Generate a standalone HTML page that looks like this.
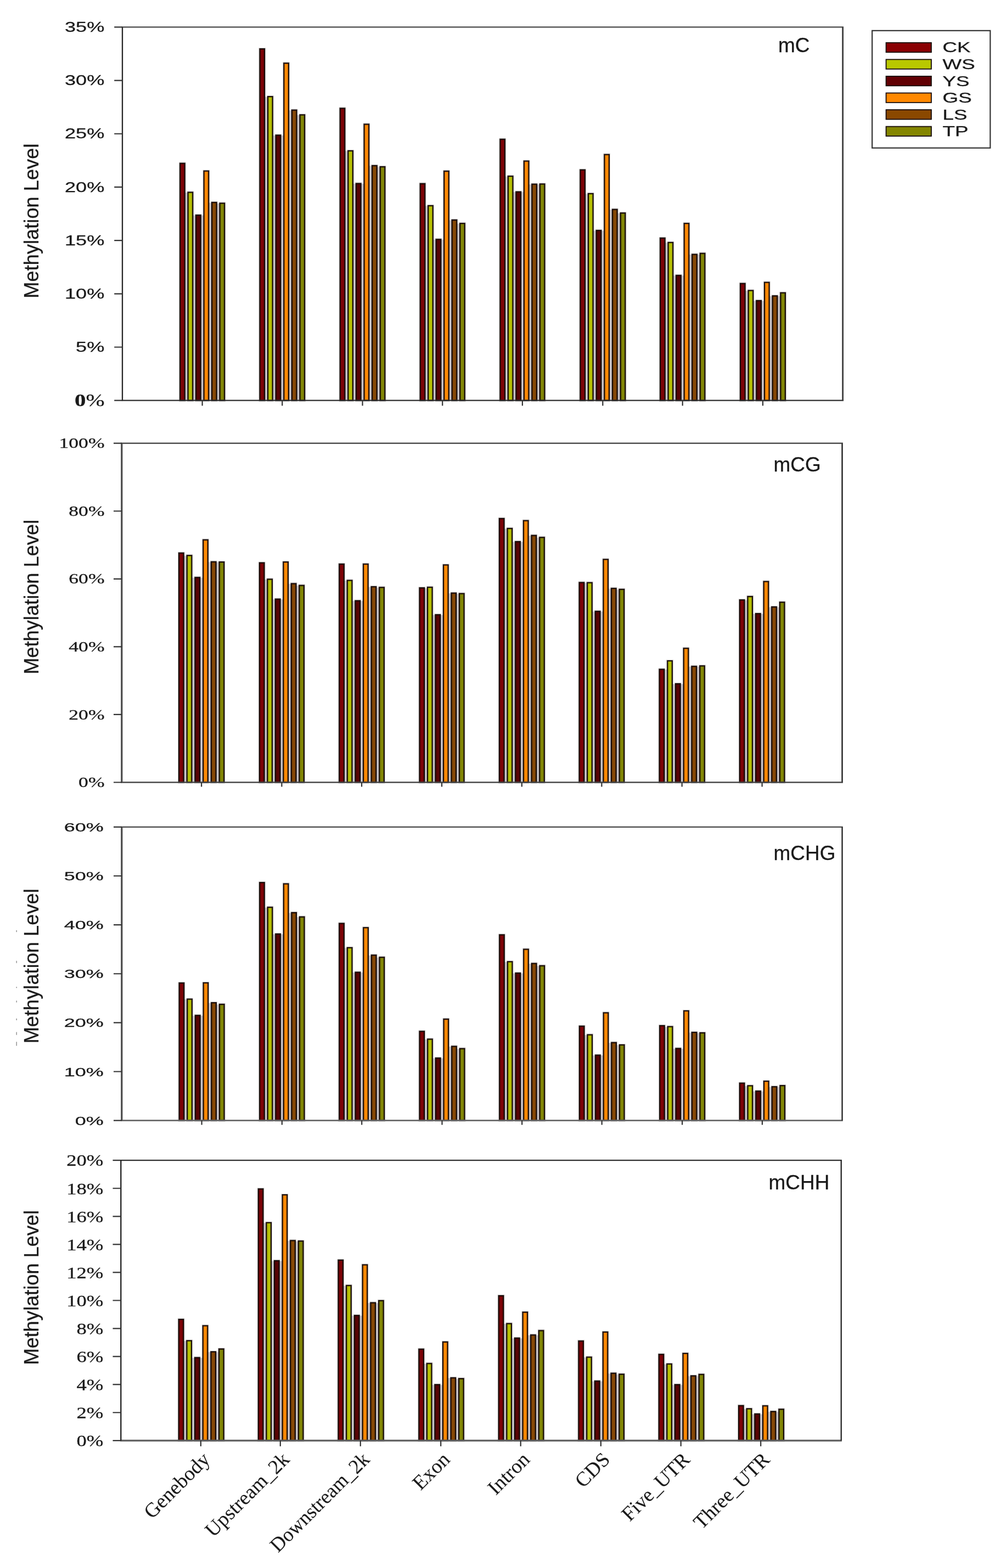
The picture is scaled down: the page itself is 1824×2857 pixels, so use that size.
<!DOCTYPE html>
<html lang="en"><head><meta charset="utf-8"><title>Methylation Level</title>
<style>html,body{margin:0;padding:0;background:#fff}svg{display:block}.sans{font-family:"Liberation Sans",Arial,Helvetica,sans-serif}.serif{font-family:"Liberation Serif","Times New Roman",Times,serif}text{fill:#1a1a1a;stroke:#1a1a1a;stroke-width:0.3px;stroke-linejoin:round}.xl text{stroke-width:0.1px}</style></head><body>
<svg width="1824" height="2857" viewBox="0 0 1824 2857">
<rect width="1824" height="2857" fill="#fff"/>
<g>
<rect x="337.19" y="350.95" width="4.89" height="378.75" fill="#d2ced3"/>
<rect x="351.68" y="392.48" width="4.89" height="337.22" fill="#d2ced3"/>
<rect x="366.17" y="392.48" width="4.89" height="337.22" fill="#d2ced3"/>
<rect x="380.67" y="369.34" width="4.89" height="360.36" fill="#d2ced3"/>
<rect x="395.16" y="370.82" width="4.89" height="358.88" fill="#d2ced3"/>
<rect x="328.04" y="297.59" width="8.7" height="432.11" fill="#7c0307" stroke="#160a06" stroke-width="1.9"/>
<rect x="342.53" y="350.4" width="8.7" height="379.3" fill="#b6c004" stroke="#160a06" stroke-width="1.9"/>
<rect x="357.02" y="391.93" width="8.7" height="337.77" fill="#580405" stroke="#160a06" stroke-width="1.9"/>
<rect x="371.52" y="311.53" width="8.7" height="418.17" fill="#fc8904" stroke="#160a06" stroke-width="1.9"/>
<rect x="386.01" y="368.79" width="8.7" height="360.91" fill="#864806" stroke="#160a06" stroke-width="1.9"/>
<rect x="400.51" y="370.27" width="8.7" height="359.43" fill="#828606" stroke="#160a06" stroke-width="1.9"/>
<rect x="482.56" y="176.5" width="5.01" height="553.2" fill="#d2ced3"/>
<rect x="497.17" y="246.81" width="5.01" height="482.89" fill="#d2ced3"/>
<rect x="511.79" y="246.81" width="5.01" height="482.89" fill="#d2ced3"/>
<rect x="526.4" y="201.12" width="5.01" height="528.58" fill="#d2ced3"/>
<rect x="541.01" y="209.73" width="5.01" height="519.97" fill="#d2ced3"/>
<rect x="473.41" y="89.02" width="8.7" height="640.68" fill="#7c0307" stroke="#160a06" stroke-width="1.9"/>
<rect x="488.02" y="175.95" width="8.7" height="553.75" fill="#b6c004" stroke="#160a06" stroke-width="1.9"/>
<rect x="502.64" y="246.26" width="8.7" height="483.44" fill="#580405" stroke="#160a06" stroke-width="1.9"/>
<rect x="517.25" y="115.13" width="8.7" height="614.57" fill="#fc8904" stroke="#160a06" stroke-width="1.9"/>
<rect x="531.86" y="200.57" width="8.7" height="529.13" fill="#864806" stroke="#160a06" stroke-width="1.9"/>
<rect x="546.47" y="209.18" width="8.7" height="520.52" fill="#828606" stroke="#160a06" stroke-width="1.9"/>
<rect x="628.82" y="275.29" width="5.01" height="454.41" fill="#d2ced3"/>
<rect x="643.44" y="334.93" width="5.01" height="394.77" fill="#d2ced3"/>
<rect x="658.05" y="334.93" width="5.01" height="394.77" fill="#d2ced3"/>
<rect x="672.66" y="302.29" width="5.01" height="427.41" fill="#d2ced3"/>
<rect x="687.27" y="304.37" width="5.01" height="425.33" fill="#d2ced3"/>
<rect x="619.67" y="197.31" width="8.7" height="532.39" fill="#7c0307" stroke="#160a06" stroke-width="1.9"/>
<rect x="634.29" y="274.74" width="8.7" height="454.96" fill="#b6c004" stroke="#160a06" stroke-width="1.9"/>
<rect x="648.9" y="334.38" width="8.7" height="395.32" fill="#580405" stroke="#160a06" stroke-width="1.9"/>
<rect x="663.51" y="226.38" width="8.7" height="503.32" fill="#fc8904" stroke="#160a06" stroke-width="1.9"/>
<rect x="678.12" y="301.74" width="8.7" height="427.96" fill="#864806" stroke="#160a06" stroke-width="1.9"/>
<rect x="692.74" y="303.82" width="8.7" height="425.88" fill="#828606" stroke="#160a06" stroke-width="1.9"/>
<rect x="774.81" y="375.28" width="4.89" height="354.42" fill="#d2ced3"/>
<rect x="789.31" y="436.69" width="4.89" height="293.01" fill="#d2ced3"/>
<rect x="803.8" y="436.69" width="4.89" height="293.01" fill="#d2ced3"/>
<rect x="818.29" y="401.38" width="4.89" height="328.32" fill="#d2ced3"/>
<rect x="832.79" y="407.61" width="4.89" height="322.09" fill="#d2ced3"/>
<rect x="765.66" y="334.67" width="8.7" height="395.03" fill="#7c0307" stroke="#160a06" stroke-width="1.9"/>
<rect x="780.16" y="374.73" width="8.7" height="354.97" fill="#b6c004" stroke="#160a06" stroke-width="1.9"/>
<rect x="794.65" y="436.14" width="8.7" height="293.56" fill="#580405" stroke="#160a06" stroke-width="1.9"/>
<rect x="809.14" y="311.83" width="8.7" height="417.87" fill="#fc8904" stroke="#160a06" stroke-width="1.9"/>
<rect x="823.64" y="400.83" width="8.7" height="328.87" fill="#864806" stroke="#160a06" stroke-width="1.9"/>
<rect x="838.13" y="407.06" width="8.7" height="322.64" fill="#828606" stroke="#160a06" stroke-width="1.9"/>
<rect x="920.48" y="321.58" width="4.89" height="408.12" fill="#d2ced3"/>
<rect x="934.98" y="350.06" width="4.89" height="379.64" fill="#d2ced3"/>
<rect x="949.47" y="350.06" width="4.89" height="379.64" fill="#d2ced3"/>
<rect x="963.97" y="336.11" width="4.89" height="393.59" fill="#d2ced3"/>
<rect x="978.46" y="336.11" width="4.89" height="393.59" fill="#d2ced3"/>
<rect x="911.33" y="253.68" width="8.7" height="476.02" fill="#7c0307" stroke="#160a06" stroke-width="1.9"/>
<rect x="925.83" y="321.03" width="8.7" height="408.67" fill="#b6c004" stroke="#160a06" stroke-width="1.9"/>
<rect x="940.32" y="349.51" width="8.7" height="380.19" fill="#580405" stroke="#160a06" stroke-width="1.9"/>
<rect x="954.82" y="293.43" width="8.7" height="436.27" fill="#fc8904" stroke="#160a06" stroke-width="1.9"/>
<rect x="969.31" y="335.56" width="8.7" height="394.14" fill="#864806" stroke="#160a06" stroke-width="1.9"/>
<rect x="983.8" y="335.27" width="8.7" height="394.43" fill="#828606" stroke="#160a06" stroke-width="1.9"/>
<rect x="1066.45" y="353.32" width="5.07" height="376.38" fill="#d2ced3"/>
<rect x="1081.12" y="420.37" width="5.07" height="309.33" fill="#d2ced3"/>
<rect x="1095.79" y="420.37" width="5.07" height="309.33" fill="#d2ced3"/>
<rect x="1110.47" y="382.1" width="5.07" height="347.6" fill="#d2ced3"/>
<rect x="1125.14" y="388.63" width="5.07" height="341.07" fill="#d2ced3"/>
<rect x="1057.3" y="309.46" width="8.7" height="420.24" fill="#7c0307" stroke="#160a06" stroke-width="1.9"/>
<rect x="1071.97" y="352.77" width="8.7" height="376.93" fill="#b6c004" stroke="#160a06" stroke-width="1.9"/>
<rect x="1086.64" y="419.82" width="8.7" height="309.88" fill="#580405" stroke="#160a06" stroke-width="1.9"/>
<rect x="1101.32" y="281.57" width="8.7" height="448.13" fill="#fc8904" stroke="#160a06" stroke-width="1.9"/>
<rect x="1115.99" y="381.55" width="8.7" height="348.15" fill="#864806" stroke="#160a06" stroke-width="1.9"/>
<rect x="1130.66" y="388.08" width="8.7" height="341.62" fill="#828606" stroke="#160a06" stroke-width="1.9"/>
<rect x="1212.14" y="442.33" width="4.95" height="287.37" fill="#d2ced3"/>
<rect x="1226.7" y="502.25" width="4.95" height="227.45" fill="#d2ced3"/>
<rect x="1241.25" y="502.25" width="4.95" height="227.45" fill="#d2ced3"/>
<rect x="1255.8" y="463.98" width="4.95" height="265.72" fill="#d2ced3"/>
<rect x="1270.36" y="463.98" width="4.95" height="265.72" fill="#d2ced3"/>
<rect x="1202.99" y="433.76" width="8.7" height="295.94" fill="#7c0307" stroke="#160a06" stroke-width="1.9"/>
<rect x="1217.55" y="441.78" width="8.7" height="287.92" fill="#b6c004" stroke="#160a06" stroke-width="1.9"/>
<rect x="1232.1" y="501.7" width="8.7" height="228" fill="#580405" stroke="#160a06" stroke-width="1.9"/>
<rect x="1246.65" y="407.06" width="8.7" height="322.64" fill="#fc8904" stroke="#160a06" stroke-width="1.9"/>
<rect x="1261.21" y="463.43" width="8.7" height="266.27" fill="#864806" stroke="#160a06" stroke-width="1.9"/>
<rect x="1275.76" y="461.65" width="8.7" height="268.05" fill="#828606" stroke="#160a06" stroke-width="1.9"/>
<rect x="1358.11" y="529.85" width="5.07" height="199.85" fill="#d2ced3"/>
<rect x="1372.78" y="548.24" width="5.07" height="181.46" fill="#d2ced3"/>
<rect x="1387.45" y="548.24" width="5.07" height="181.46" fill="#d2ced3"/>
<rect x="1402.13" y="539.64" width="5.07" height="190.06" fill="#d2ced3"/>
<rect x="1416.8" y="539.64" width="5.07" height="190.06" fill="#d2ced3"/>
<rect x="1348.96" y="516.54" width="8.7" height="213.16" fill="#7c0307" stroke="#160a06" stroke-width="1.9"/>
<rect x="1363.63" y="529.3" width="8.7" height="200.4" fill="#b6c004" stroke="#160a06" stroke-width="1.9"/>
<rect x="1378.3" y="547.69" width="8.7" height="182.01" fill="#580405" stroke="#160a06" stroke-width="1.9"/>
<rect x="1392.98" y="514.46" width="8.7" height="215.24" fill="#fc8904" stroke="#160a06" stroke-width="1.9"/>
<rect x="1407.65" y="539.09" width="8.7" height="190.61" fill="#864806" stroke="#160a06" stroke-width="1.9"/>
<rect x="1422.32" y="533.45" width="8.7" height="196.25" fill="#828606" stroke="#160a06" stroke-width="1.9"/>
<path d="M328.04 297.59h8.7v432.11h-8.7zM342.53 350.4h8.7v379.3h-8.7zM357.02 391.93h8.7v337.77h-8.7zM371.52 311.53h8.7v418.17h-8.7zM386.01 368.79h8.7v360.91h-8.7zM400.51 370.27h8.7v359.43h-8.7zM473.41 89.02h8.7v640.68h-8.7zM488.02 175.95h8.7v553.75h-8.7zM502.64 246.26h8.7v483.44h-8.7zM517.25 115.13h8.7v614.57h-8.7zM531.86 200.57h8.7v529.13h-8.7zM546.47 209.18h8.7v520.52h-8.7zM619.67 197.31h8.7v532.39h-8.7zM634.29 274.74h8.7v454.96h-8.7zM648.9 334.38h8.7v395.32h-8.7zM663.51 226.38h8.7v503.32h-8.7zM678.12 301.74h8.7v427.96h-8.7zM692.74 303.82h8.7v425.88h-8.7zM765.66 334.67h8.7v395.03h-8.7zM780.16 374.73h8.7v354.97h-8.7zM794.65 436.14h8.7v293.56h-8.7zM809.14 311.83h8.7v417.87h-8.7zM823.64 400.83h8.7v328.87h-8.7zM838.13 407.06h8.7v322.64h-8.7zM911.33 253.68h8.7v476.02h-8.7zM925.83 321.03h8.7v408.67h-8.7zM940.32 349.51h8.7v380.19h-8.7zM954.82 293.43h8.7v436.27h-8.7zM969.31 335.56h8.7v394.14h-8.7zM983.8 335.27h8.7v394.43h-8.7zM1057.3 309.46h8.7v420.24h-8.7zM1071.97 352.77h8.7v376.93h-8.7zM1086.64 419.82h8.7v309.88h-8.7zM1101.32 281.57h8.7v448.13h-8.7zM1115.99 381.55h8.7v348.15h-8.7zM1130.66 388.08h8.7v341.62h-8.7zM1202.99 433.76h8.7v295.94h-8.7zM1217.55 441.78h8.7v287.92h-8.7zM1232.1 501.7h8.7v228h-8.7zM1246.65 407.06h8.7v322.64h-8.7zM1261.21 463.43h8.7v266.27h-8.7zM1275.76 461.65h8.7v268.05h-8.7zM1348.96 516.54h8.7v213.16h-8.7zM1363.63 529.3h8.7v200.4h-8.7zM1378.3 547.69h8.7v182.01h-8.7zM1392.98 514.46h8.7v215.24h-8.7zM1407.65 539.09h8.7v190.61h-8.7zM1422.32 533.45h8.7v196.25h-8.7z" fill="none" stroke="#160a06" stroke-opacity="0.32" stroke-width="3.5999999999999996"/>
<path d="M221.85 49.4H1537.1" stroke="#4a4a4a" stroke-width="2.1" fill="none"/>
<path d="M221.85 729.7H1537.1" stroke="#2e2e2e" stroke-width="2.2" fill="none"/>
<path d="M223 49.4V729.7" stroke="#262626" stroke-width="2.3" fill="none"/>
<path d="M1535.7 49.4V729.7" stroke="#3c3c3c" stroke-width="2.8" fill="none"/>
<path d="M208.2 729.7H223M208.2 632.51H223M208.2 535.33H223M208.2 438.14H223M208.2 340.96H223M208.2 243.77H223M208.2 146.59H223M208.2 49.4H223M368.62 729.7V739.2M514.29 729.7V739.2M660.56 729.7V739.2M806.25 729.7V739.2M951.92 729.7V739.2M1098.33 729.7V739.2M1243.73 729.7V739.2M1389.99 729.7V739.2" stroke="#333333" stroke-width="2.2" fill="none"/>
</g>
<g class="sans" font-size="26" text-anchor="end">
<text class="serif" font-size="32" transform="translate(190.6,740.3) scale(1.28,1)"><tspan font-weight="bold">0</tspan>%</text>
<text transform="translate(190.3,641.22) scale(1.39,1)">5%</text>
<text transform="translate(190.3,544.04) scale(1.39,1)">10%</text>
<text transform="translate(190.3,446.85) scale(1.39,1)">15%</text>
<text transform="translate(190.3,349.67) scale(1.39,1)">20%</text>
<text transform="translate(190.3,252.48) scale(1.39,1)">25%</text>
<text transform="translate(190.3,155.3) scale(1.39,1)">30%</text>
<text transform="translate(190.3,58.11) scale(1.39,1)">35%</text>
</g>
<text class="sans" font-size="37" text-anchor="middle" transform="translate(69.6,402.6) rotate(-90) scale(0.98,1)">Methylation Level</text>
<text class="sans" font-size="37" transform="translate(1418,94.5) scale(1,1)">mC</text>
<g>
<rect x="335.11" y="1012.63" width="5.13" height="412.87" fill="#d2ced3"/>
<rect x="349.84" y="1052.68" width="5.13" height="372.82" fill="#d2ced3"/>
<rect x="364.57" y="1052.68" width="5.13" height="372.82" fill="#d2ced3"/>
<rect x="379.3" y="1024.2" width="5.13" height="401.3" fill="#d2ced3"/>
<rect x="394.03" y="1024.5" width="5.13" height="401" fill="#d2ced3"/>
<rect x="325.96" y="1007.63" width="8.7" height="417.87" fill="#7c0307" stroke="#160a06" stroke-width="1.9"/>
<rect x="340.69" y="1012.08" width="8.7" height="413.42" fill="#b6c004" stroke="#160a06" stroke-width="1.9"/>
<rect x="355.42" y="1052.13" width="8.7" height="373.37" fill="#580405" stroke="#160a06" stroke-width="1.9"/>
<rect x="370.15" y="983.6" width="8.7" height="441.9" fill="#fc8904" stroke="#160a06" stroke-width="1.9"/>
<rect x="384.88" y="1023.65" width="8.7" height="401.85" fill="#864806" stroke="#160a06" stroke-width="1.9"/>
<rect x="399.62" y="1023.95" width="8.7" height="401.55" fill="#828606" stroke="#160a06" stroke-width="1.9"/>
<rect x="481.97" y="1055.94" width="4.89" height="369.56" fill="#d2ced3"/>
<rect x="496.46" y="1092.14" width="4.89" height="333.36" fill="#d2ced3"/>
<rect x="510.95" y="1092.14" width="4.89" height="333.36" fill="#d2ced3"/>
<rect x="525.45" y="1063.95" width="4.89" height="361.55" fill="#d2ced3"/>
<rect x="539.94" y="1067.22" width="4.89" height="358.28" fill="#d2ced3"/>
<rect x="472.82" y="1025.43" width="8.7" height="400.07" fill="#7c0307" stroke="#160a06" stroke-width="1.9"/>
<rect x="487.31" y="1055.39" width="8.7" height="370.11" fill="#b6c004" stroke="#160a06" stroke-width="1.9"/>
<rect x="501.8" y="1091.59" width="8.7" height="333.91" fill="#580405" stroke="#160a06" stroke-width="1.9"/>
<rect x="516.3" y="1023.95" width="8.7" height="401.55" fill="#fc8904" stroke="#160a06" stroke-width="1.9"/>
<rect x="530.79" y="1063.4" width="8.7" height="362.1" fill="#864806" stroke="#160a06" stroke-width="1.9"/>
<rect x="545.29" y="1066.67" width="8.7" height="358.83" fill="#828606" stroke="#160a06" stroke-width="1.9"/>
<rect x="627.34" y="1058.02" width="5.01" height="367.48" fill="#d2ced3"/>
<rect x="641.95" y="1095.11" width="5.01" height="330.39" fill="#d2ced3"/>
<rect x="656.57" y="1095.11" width="5.01" height="330.39" fill="#d2ced3"/>
<rect x="671.18" y="1069.59" width="5.01" height="355.91" fill="#d2ced3"/>
<rect x="685.79" y="1070.78" width="5.01" height="354.72" fill="#d2ced3"/>
<rect x="618.19" y="1027.8" width="8.7" height="397.7" fill="#7c0307" stroke="#160a06" stroke-width="1.9"/>
<rect x="632.8" y="1057.47" width="8.7" height="368.03" fill="#b6c004" stroke="#160a06" stroke-width="1.9"/>
<rect x="647.42" y="1094.56" width="8.7" height="330.94" fill="#580405" stroke="#160a06" stroke-width="1.9"/>
<rect x="662.03" y="1027.8" width="8.7" height="397.7" fill="#fc8904" stroke="#160a06" stroke-width="1.9"/>
<rect x="676.64" y="1069.04" width="8.7" height="356.46" fill="#864806" stroke="#160a06" stroke-width="1.9"/>
<rect x="691.25" y="1070.23" width="8.7" height="355.27" fill="#828606" stroke="#160a06" stroke-width="1.9"/>
<rect x="773.63" y="1071.67" width="4.89" height="353.83" fill="#d2ced3"/>
<rect x="788.12" y="1120.62" width="4.89" height="304.88" fill="#d2ced3"/>
<rect x="802.61" y="1120.62" width="4.89" height="304.88" fill="#d2ced3"/>
<rect x="817.11" y="1081.16" width="4.89" height="344.34" fill="#d2ced3"/>
<rect x="831.6" y="1082.05" width="4.89" height="343.45" fill="#d2ced3"/>
<rect x="764.48" y="1071.12" width="8.7" height="354.38" fill="#7c0307" stroke="#160a06" stroke-width="1.9"/>
<rect x="778.97" y="1069.93" width="8.7" height="355.57" fill="#b6c004" stroke="#160a06" stroke-width="1.9"/>
<rect x="793.46" y="1120.07" width="8.7" height="305.43" fill="#580405" stroke="#160a06" stroke-width="1.9"/>
<rect x="807.96" y="1029.29" width="8.7" height="396.21" fill="#fc8904" stroke="#160a06" stroke-width="1.9"/>
<rect x="822.45" y="1080.61" width="8.7" height="344.89" fill="#864806" stroke="#160a06" stroke-width="1.9"/>
<rect x="836.95" y="1081.5" width="8.7" height="344" fill="#828606" stroke="#160a06" stroke-width="1.9"/>
<rect x="919" y="963.38" width="5.07" height="462.12" fill="#d2ced3"/>
<rect x="933.67" y="987.41" width="5.07" height="438.09" fill="#d2ced3"/>
<rect x="948.34" y="987.41" width="5.07" height="438.09" fill="#d2ced3"/>
<rect x="963.02" y="976.14" width="5.07" height="449.36" fill="#d2ced3"/>
<rect x="977.69" y="979.7" width="5.07" height="445.8" fill="#d2ced3"/>
<rect x="909.85" y="944.73" width="8.7" height="480.77" fill="#7c0307" stroke="#160a06" stroke-width="1.9"/>
<rect x="924.52" y="962.83" width="8.7" height="462.67" fill="#b6c004" stroke="#160a06" stroke-width="1.9"/>
<rect x="939.19" y="986.86" width="8.7" height="438.64" fill="#580405" stroke="#160a06" stroke-width="1.9"/>
<rect x="953.87" y="948.59" width="8.7" height="476.91" fill="#fc8904" stroke="#160a06" stroke-width="1.9"/>
<rect x="968.54" y="975.59" width="8.7" height="449.91" fill="#864806" stroke="#160a06" stroke-width="1.9"/>
<rect x="983.21" y="979.15" width="8.7" height="446.35" fill="#828606" stroke="#160a06" stroke-width="1.9"/>
<rect x="1064.67" y="1062.17" width="5.01" height="363.33" fill="#d2ced3"/>
<rect x="1079.28" y="1114.39" width="5.01" height="311.11" fill="#d2ced3"/>
<rect x="1093.9" y="1114.39" width="5.01" height="311.11" fill="#d2ced3"/>
<rect x="1108.51" y="1072.56" width="5.01" height="352.94" fill="#d2ced3"/>
<rect x="1123.12" y="1074.34" width="5.01" height="351.16" fill="#d2ced3"/>
<rect x="1055.52" y="1061.33" width="8.7" height="364.17" fill="#7c0307" stroke="#160a06" stroke-width="1.9"/>
<rect x="1070.13" y="1061.62" width="8.7" height="363.88" fill="#b6c004" stroke="#160a06" stroke-width="1.9"/>
<rect x="1084.75" y="1113.84" width="8.7" height="311.66" fill="#580405" stroke="#160a06" stroke-width="1.9"/>
<rect x="1099.36" y="1019.2" width="8.7" height="406.3" fill="#fc8904" stroke="#160a06" stroke-width="1.9"/>
<rect x="1113.97" y="1072.01" width="8.7" height="353.49" fill="#864806" stroke="#160a06" stroke-width="1.9"/>
<rect x="1128.58" y="1073.79" width="8.7" height="351.71" fill="#828606" stroke="#160a06" stroke-width="1.9"/>
<rect x="1210.66" y="1220.01" width="5.13" height="205.49" fill="#d2ced3"/>
<rect x="1225.39" y="1246.41" width="5.13" height="179.09" fill="#d2ced3"/>
<rect x="1240.12" y="1246.41" width="5.13" height="179.09" fill="#d2ced3"/>
<rect x="1254.85" y="1214.67" width="5.13" height="210.83" fill="#d2ced3"/>
<rect x="1269.58" y="1214.67" width="5.13" height="210.83" fill="#d2ced3"/>
<rect x="1201.51" y="1219.46" width="8.7" height="206.04" fill="#7c0307" stroke="#160a06" stroke-width="1.9"/>
<rect x="1216.24" y="1204.03" width="8.7" height="221.47" fill="#b6c004" stroke="#160a06" stroke-width="1.9"/>
<rect x="1230.97" y="1245.86" width="8.7" height="179.64" fill="#580405" stroke="#160a06" stroke-width="1.9"/>
<rect x="1245.7" y="1181.19" width="8.7" height="244.31" fill="#fc8904" stroke="#160a06" stroke-width="1.9"/>
<rect x="1260.43" y="1214.12" width="8.7" height="211.38" fill="#864806" stroke="#160a06" stroke-width="1.9"/>
<rect x="1275.17" y="1213.23" width="8.7" height="212.27" fill="#828606" stroke="#160a06" stroke-width="1.9"/>
<rect x="1356.92" y="1093.62" width="5.01" height="331.88" fill="#d2ced3"/>
<rect x="1371.54" y="1118.54" width="5.01" height="306.96" fill="#d2ced3"/>
<rect x="1386.15" y="1118.54" width="5.01" height="306.96" fill="#d2ced3"/>
<rect x="1400.76" y="1106.38" width="5.01" height="319.12" fill="#d2ced3"/>
<rect x="1415.37" y="1106.38" width="5.01" height="319.12" fill="#d2ced3"/>
<rect x="1347.77" y="1093.07" width="8.7" height="332.43" fill="#7c0307" stroke="#160a06" stroke-width="1.9"/>
<rect x="1362.39" y="1086.84" width="8.7" height="338.66" fill="#b6c004" stroke="#160a06" stroke-width="1.9"/>
<rect x="1377" y="1117.99" width="8.7" height="307.51" fill="#580405" stroke="#160a06" stroke-width="1.9"/>
<rect x="1391.61" y="1059.55" width="8.7" height="365.95" fill="#fc8904" stroke="#160a06" stroke-width="1.9"/>
<rect x="1406.22" y="1105.83" width="8.7" height="319.67" fill="#864806" stroke="#160a06" stroke-width="1.9"/>
<rect x="1420.84" y="1097.23" width="8.7" height="328.27" fill="#828606" stroke="#160a06" stroke-width="1.9"/>
<path d="M325.96 1007.63h8.7v417.87h-8.7zM340.69 1012.08h8.7v413.42h-8.7zM355.42 1052.13h8.7v373.37h-8.7zM370.15 983.6h8.7v441.9h-8.7zM384.88 1023.65h8.7v401.85h-8.7zM399.62 1023.95h8.7v401.55h-8.7zM472.82 1025.43h8.7v400.07h-8.7zM487.31 1055.39h8.7v370.11h-8.7zM501.8 1091.59h8.7v333.91h-8.7zM516.3 1023.95h8.7v401.55h-8.7zM530.79 1063.4h8.7v362.1h-8.7zM545.29 1066.67h8.7v358.83h-8.7zM618.19 1027.8h8.7v397.7h-8.7zM632.8 1057.47h8.7v368.03h-8.7zM647.42 1094.56h8.7v330.94h-8.7zM662.03 1027.8h8.7v397.7h-8.7zM676.64 1069.04h8.7v356.46h-8.7zM691.25 1070.23h8.7v355.27h-8.7zM764.48 1071.12h8.7v354.38h-8.7zM778.97 1069.93h8.7v355.57h-8.7zM793.46 1120.07h8.7v305.43h-8.7zM807.96 1029.29h8.7v396.21h-8.7zM822.45 1080.61h8.7v344.89h-8.7zM836.95 1081.5h8.7v344h-8.7zM909.85 944.73h8.7v480.77h-8.7zM924.52 962.83h8.7v462.67h-8.7zM939.19 986.86h8.7v438.64h-8.7zM953.87 948.59h8.7v476.91h-8.7zM968.54 975.59h8.7v449.91h-8.7zM983.21 979.15h8.7v446.35h-8.7zM1055.52 1061.33h8.7v364.17h-8.7zM1070.13 1061.62h8.7v363.88h-8.7zM1084.75 1113.84h8.7v311.66h-8.7zM1099.36 1019.2h8.7v406.3h-8.7zM1113.97 1072.01h8.7v353.49h-8.7zM1128.58 1073.79h8.7v351.71h-8.7zM1201.51 1219.46h8.7v206.04h-8.7zM1216.24 1204.03h8.7v221.47h-8.7zM1230.97 1245.86h8.7v179.64h-8.7zM1245.7 1181.19h8.7v244.31h-8.7zM1260.43 1214.12h8.7v211.38h-8.7zM1275.17 1213.23h8.7v212.27h-8.7zM1347.77 1093.07h8.7v332.43h-8.7zM1362.39 1086.84h8.7v338.66h-8.7zM1377 1117.99h8.7v307.51h-8.7zM1391.61 1059.55h8.7v365.95h-8.7zM1406.22 1105.83h8.7v319.67h-8.7zM1420.84 1097.23h8.7v328.27h-8.7z" fill="none" stroke="#160a06" stroke-opacity="0.32" stroke-width="3.5999999999999996"/>
<path d="M220.2 807.7H1536" stroke="#3c3c3c" stroke-width="2.2" fill="none"/>
<path d="M220.2 1425.5H1536" stroke="#484848" stroke-width="2.3" fill="none"/>
<path d="M221.8 807.7V1425.5" stroke="#4a4a4a" stroke-width="3.2" fill="none"/>
<path d="M1534.6 807.7V1425.5" stroke="#3c3c3c" stroke-width="2.8" fill="none"/>
<path d="M207 1425.5H221.8M207 1301.94H221.8M207 1178.38H221.8M207 1054.82H221.8M207 931.26H221.8M207 807.7H221.8M367.14 1425.5V1433.5M513.4 1425.5V1433.5M659.07 1425.5V1433.5M805.06 1425.5V1433.5M950.88 1425.5V1433.5M1096.4 1425.5V1433.5M1242.69 1425.5V1433.5M1388.65 1425.5V1433.5" stroke="#333333" stroke-width="2.2" fill="none"/>
</g>
<g class="serif" font-size="25.4" text-anchor="end">
<text transform="translate(190.5,1434.09) scale(1.4,1)">0%</text>
<text transform="translate(190.5,1310.53) scale(1.4,1)">20%</text>
<text transform="translate(190.5,1186.97) scale(1.4,1)">40%</text>
<text transform="translate(190.5,1063.41) scale(1.4,1)">60%</text>
<text transform="translate(190.5,939.85) scale(1.4,1)">80%</text>
<text transform="translate(190.5,816.29) scale(1.4,1)">100%</text>
</g>
<text class="sans" font-size="37" text-anchor="middle" transform="translate(69.6,1087.8) rotate(-90) scale(0.98,1)">Methylation Level</text>
<text class="sans" font-size="37" transform="translate(1409.5,858.6) scale(1,1)">mCG</text>
<g>
<rect x="335.7" y="1820.98" width="5.07" height="220.62" fill="#d2ced3"/>
<rect x="350.37" y="1850.65" width="5.07" height="190.95" fill="#d2ced3"/>
<rect x="365.05" y="1850.65" width="5.07" height="190.95" fill="#d2ced3"/>
<rect x="379.72" y="1827.51" width="5.07" height="214.09" fill="#d2ced3"/>
<rect x="394.39" y="1830.47" width="5.07" height="211.13" fill="#d2ced3"/>
<rect x="326.55" y="1791.06" width="8.7" height="250.54" fill="#7c0307" stroke="#160a06" stroke-width="1.9"/>
<rect x="341.22" y="1820.43" width="8.7" height="221.17" fill="#b6c004" stroke="#160a06" stroke-width="1.9"/>
<rect x="355.9" y="1850.1" width="8.7" height="191.5" fill="#580405" stroke="#160a06" stroke-width="1.9"/>
<rect x="370.57" y="1790.76" width="8.7" height="250.84" fill="#fc8904" stroke="#160a06" stroke-width="1.9"/>
<rect x="385.24" y="1826.96" width="8.7" height="214.64" fill="#864806" stroke="#160a06" stroke-width="1.9"/>
<rect x="399.91" y="1829.92" width="8.7" height="211.68" fill="#828606" stroke="#160a06" stroke-width="1.9"/>
<rect x="482.26" y="1653.65" width="4.95" height="387.95" fill="#d2ced3"/>
<rect x="496.82" y="1702.31" width="4.95" height="339.29" fill="#d2ced3"/>
<rect x="511.37" y="1702.31" width="4.95" height="339.29" fill="#d2ced3"/>
<rect x="525.92" y="1663.44" width="4.95" height="378.16" fill="#d2ced3"/>
<rect x="540.48" y="1671.15" width="4.95" height="370.45" fill="#d2ced3"/>
<rect x="473.11" y="1608" width="8.7" height="433.6" fill="#7c0307" stroke="#160a06" stroke-width="1.9"/>
<rect x="487.67" y="1653.1" width="8.7" height="388.5" fill="#b6c004" stroke="#160a06" stroke-width="1.9"/>
<rect x="502.22" y="1701.76" width="8.7" height="339.84" fill="#580405" stroke="#160a06" stroke-width="1.9"/>
<rect x="516.77" y="1610.38" width="8.7" height="431.22" fill="#fc8904" stroke="#160a06" stroke-width="1.9"/>
<rect x="531.33" y="1662.89" width="8.7" height="378.71" fill="#864806" stroke="#160a06" stroke-width="1.9"/>
<rect x="545.88" y="1670.6" width="8.7" height="371" fill="#828606" stroke="#160a06" stroke-width="1.9"/>
<rect x="627.34" y="1727.23" width="5.07" height="314.37" fill="#d2ced3"/>
<rect x="642.01" y="1772.03" width="5.07" height="269.57" fill="#d2ced3"/>
<rect x="656.68" y="1772.03" width="5.07" height="269.57" fill="#d2ced3"/>
<rect x="671.36" y="1740.87" width="5.07" height="300.73" fill="#d2ced3"/>
<rect x="686.03" y="1744.73" width="5.07" height="296.87" fill="#d2ced3"/>
<rect x="618.19" y="1682.47" width="8.7" height="359.13" fill="#7c0307" stroke="#160a06" stroke-width="1.9"/>
<rect x="632.86" y="1726.68" width="8.7" height="314.92" fill="#b6c004" stroke="#160a06" stroke-width="1.9"/>
<rect x="647.53" y="1771.48" width="8.7" height="270.12" fill="#580405" stroke="#160a06" stroke-width="1.9"/>
<rect x="662.21" y="1690.19" width="8.7" height="351.41" fill="#fc8904" stroke="#160a06" stroke-width="1.9"/>
<rect x="676.88" y="1740.32" width="8.7" height="301.28" fill="#864806" stroke="#160a06" stroke-width="1.9"/>
<rect x="691.55" y="1744.18" width="8.7" height="297.42" fill="#828606" stroke="#160a06" stroke-width="1.9"/>
<rect x="773.63" y="1893.96" width="5.07" height="147.64" fill="#d2ced3"/>
<rect x="788.3" y="1928.38" width="5.07" height="113.22" fill="#d2ced3"/>
<rect x="802.97" y="1928.38" width="5.07" height="113.22" fill="#d2ced3"/>
<rect x="817.64" y="1907.02" width="5.07" height="134.58" fill="#d2ced3"/>
<rect x="832.31" y="1911.17" width="5.07" height="130.43" fill="#d2ced3"/>
<rect x="764.48" y="1879.17" width="8.7" height="162.43" fill="#7c0307" stroke="#160a06" stroke-width="1.9"/>
<rect x="779.15" y="1893.41" width="8.7" height="148.19" fill="#b6c004" stroke="#160a06" stroke-width="1.9"/>
<rect x="793.82" y="1927.83" width="8.7" height="113.77" fill="#580405" stroke="#160a06" stroke-width="1.9"/>
<rect x="808.49" y="1856.92" width="8.7" height="184.68" fill="#fc8904" stroke="#160a06" stroke-width="1.9"/>
<rect x="823.16" y="1906.47" width="8.7" height="135.13" fill="#864806" stroke="#160a06" stroke-width="1.9"/>
<rect x="837.84" y="1910.62" width="8.7" height="130.98" fill="#828606" stroke="#160a06" stroke-width="1.9"/>
<rect x="919.3" y="1752.74" width="5.07" height="288.86" fill="#d2ced3"/>
<rect x="933.97" y="1773.51" width="5.07" height="268.09" fill="#d2ced3"/>
<rect x="948.64" y="1773.51" width="5.07" height="268.09" fill="#d2ced3"/>
<rect x="963.31" y="1756.01" width="5.07" height="285.59" fill="#d2ced3"/>
<rect x="977.98" y="1760.16" width="5.07" height="281.44" fill="#d2ced3"/>
<rect x="910.15" y="1703.24" width="8.7" height="338.36" fill="#7c0307" stroke="#160a06" stroke-width="1.9"/>
<rect x="924.82" y="1752.19" width="8.7" height="289.41" fill="#b6c004" stroke="#160a06" stroke-width="1.9"/>
<rect x="939.49" y="1772.96" width="8.7" height="268.64" fill="#580405" stroke="#160a06" stroke-width="1.9"/>
<rect x="954.16" y="1729.64" width="8.7" height="311.96" fill="#fc8904" stroke="#160a06" stroke-width="1.9"/>
<rect x="968.83" y="1755.46" width="8.7" height="286.14" fill="#864806" stroke="#160a06" stroke-width="1.9"/>
<rect x="983.51" y="1759.61" width="8.7" height="281.99" fill="#828606" stroke="#160a06" stroke-width="1.9"/>
<rect x="1064.97" y="1885.95" width="5.01" height="155.65" fill="#d2ced3"/>
<rect x="1079.58" y="1923.04" width="5.01" height="118.56" fill="#d2ced3"/>
<rect x="1094.19" y="1923.04" width="5.01" height="118.56" fill="#d2ced3"/>
<rect x="1108.81" y="1900.19" width="5.01" height="141.41" fill="#d2ced3"/>
<rect x="1123.42" y="1904.35" width="5.01" height="137.25" fill="#d2ced3"/>
<rect x="1055.82" y="1869.68" width="8.7" height="171.92" fill="#7c0307" stroke="#160a06" stroke-width="1.9"/>
<rect x="1070.43" y="1885.4" width="8.7" height="156.2" fill="#b6c004" stroke="#160a06" stroke-width="1.9"/>
<rect x="1085.04" y="1922.49" width="8.7" height="119.11" fill="#580405" stroke="#160a06" stroke-width="1.9"/>
<rect x="1099.66" y="1845.35" width="8.7" height="196.25" fill="#fc8904" stroke="#160a06" stroke-width="1.9"/>
<rect x="1114.27" y="1899.64" width="8.7" height="141.96" fill="#864806" stroke="#160a06" stroke-width="1.9"/>
<rect x="1128.88" y="1903.8" width="8.7" height="137.8" fill="#828606" stroke="#160a06" stroke-width="1.9"/>
<rect x="1211.25" y="1871.12" width="5.07" height="170.48" fill="#d2ced3"/>
<rect x="1225.92" y="1910.87" width="5.07" height="130.73" fill="#d2ced3"/>
<rect x="1240.6" y="1910.87" width="5.07" height="130.73" fill="#d2ced3"/>
<rect x="1255.27" y="1881.5" width="5.07" height="160.1" fill="#d2ced3"/>
<rect x="1269.94" y="1882.39" width="5.07" height="159.21" fill="#d2ced3"/>
<rect x="1202.1" y="1868.79" width="8.7" height="172.81" fill="#7c0307" stroke="#160a06" stroke-width="1.9"/>
<rect x="1216.77" y="1870.57" width="8.7" height="171.03" fill="#b6c004" stroke="#160a06" stroke-width="1.9"/>
<rect x="1231.45" y="1910.32" width="8.7" height="131.28" fill="#580405" stroke="#160a06" stroke-width="1.9"/>
<rect x="1246.12" y="1841.79" width="8.7" height="199.81" fill="#fc8904" stroke="#160a06" stroke-width="1.9"/>
<rect x="1260.79" y="1880.95" width="8.7" height="160.65" fill="#864806" stroke="#160a06" stroke-width="1.9"/>
<rect x="1275.46" y="1881.84" width="8.7" height="159.76" fill="#828606" stroke="#160a06" stroke-width="1.9"/>
<rect x="1356.92" y="1978.81" width="5.13" height="62.79" fill="#d2ced3"/>
<rect x="1371.65" y="1988.6" width="5.13" height="53" fill="#d2ced3"/>
<rect x="1386.39" y="1988.6" width="5.13" height="53" fill="#d2ced3"/>
<rect x="1401.12" y="1980.59" width="5.13" height="61.01" fill="#d2ced3"/>
<rect x="1415.85" y="1980.59" width="5.13" height="61.01" fill="#d2ced3"/>
<rect x="1347.77" y="1973.52" width="8.7" height="68.08" fill="#7c0307" stroke="#160a06" stroke-width="1.9"/>
<rect x="1362.5" y="1978.26" width="8.7" height="63.34" fill="#b6c004" stroke="#160a06" stroke-width="1.9"/>
<rect x="1377.24" y="1988.05" width="8.7" height="53.55" fill="#580405" stroke="#160a06" stroke-width="1.9"/>
<rect x="1391.97" y="1969.96" width="8.7" height="71.64" fill="#fc8904" stroke="#160a06" stroke-width="1.9"/>
<rect x="1406.7" y="1980.04" width="8.7" height="61.56" fill="#864806" stroke="#160a06" stroke-width="1.9"/>
<rect x="1421.43" y="1977.97" width="8.7" height="63.63" fill="#828606" stroke="#160a06" stroke-width="1.9"/>
<path d="M326.55 1791.06h8.7v250.54h-8.7zM341.22 1820.43h8.7v221.17h-8.7zM355.9 1850.1h8.7v191.5h-8.7zM370.57 1790.76h8.7v250.84h-8.7zM385.24 1826.96h8.7v214.64h-8.7zM399.91 1829.92h8.7v211.68h-8.7zM473.11 1608h8.7v433.6h-8.7zM487.67 1653.1h8.7v388.5h-8.7zM502.22 1701.76h8.7v339.84h-8.7zM516.77 1610.38h8.7v431.22h-8.7zM531.33 1662.89h8.7v378.71h-8.7zM545.88 1670.6h8.7v371h-8.7zM618.19 1682.47h8.7v359.13h-8.7zM632.86 1726.68h8.7v314.92h-8.7zM647.53 1771.48h8.7v270.12h-8.7zM662.21 1690.19h8.7v351.41h-8.7zM676.88 1740.32h8.7v301.28h-8.7zM691.55 1744.18h8.7v297.42h-8.7zM764.48 1879.17h8.7v162.43h-8.7zM779.15 1893.41h8.7v148.19h-8.7zM793.82 1927.83h8.7v113.77h-8.7zM808.49 1856.92h8.7v184.68h-8.7zM823.16 1906.47h8.7v135.13h-8.7zM837.84 1910.62h8.7v130.98h-8.7zM910.15 1703.24h8.7v338.36h-8.7zM924.82 1752.19h8.7v289.41h-8.7zM939.49 1772.96h8.7v268.64h-8.7zM954.16 1729.64h8.7v311.96h-8.7zM968.83 1755.46h8.7v286.14h-8.7zM983.51 1759.61h8.7v281.99h-8.7zM1055.82 1869.68h8.7v171.92h-8.7zM1070.43 1885.4h8.7v156.2h-8.7zM1085.04 1922.49h8.7v119.11h-8.7zM1099.66 1845.35h8.7v196.25h-8.7zM1114.27 1899.64h8.7v141.96h-8.7zM1128.88 1903.8h8.7v137.8h-8.7zM1202.1 1868.79h8.7v172.81h-8.7zM1216.77 1870.57h8.7v171.03h-8.7zM1231.45 1910.32h8.7v131.28h-8.7zM1246.12 1841.79h8.7v199.81h-8.7zM1260.79 1880.95h8.7v160.65h-8.7zM1275.46 1881.84h8.7v159.76h-8.7zM1347.77 1973.52h8.7v68.08h-8.7zM1362.5 1978.26h8.7v63.34h-8.7zM1377.24 1988.05h8.7v53.55h-8.7zM1391.97 1969.96h8.7v71.64h-8.7zM1406.7 1980.04h8.7v61.56h-8.7zM1421.43 1977.97h8.7v63.63h-8.7z" fill="none" stroke="#160a06" stroke-opacity="0.32" stroke-width="3.5999999999999996"/>
<path d="M220.2 1506.9H1535.85" stroke="#4a4a4a" stroke-width="2.1" fill="none"/>
<path d="M220.2 2041.6H1535.85" stroke="#686868" stroke-width="2.8" fill="none"/>
<path d="M221.8 1506.9V2041.6" stroke="#4a4a4a" stroke-width="3.2" fill="none"/>
<path d="M1534.6 1506.9V2041.6" stroke="#303030" stroke-width="2.5" fill="none"/>
<path d="M207 2041.6H221.8M207 1952.48H221.8M207 1863.37H221.8M207 1774.25H221.8M207 1685.13H221.8M207 1596.02H221.8M207 1506.9H221.8M367.58 2041.6V2049.6M513.85 2041.6V2049.6M659.22 2041.6V2049.6M805.51 2041.6V2049.6M951.18 2041.6V2049.6M1096.7 2041.6V2049.6M1243.13 2041.6V2049.6M1388.95 2041.6V2049.6" stroke="#333333" stroke-width="2.2" fill="none"/>
</g>
<g class="sans" font-size="22.5" text-anchor="end">
<text transform="translate(188.7,2049.65) scale(1.6,1)">0%</text>
<text transform="translate(188.7,1960.53) scale(1.6,1)">10%</text>
<text transform="translate(188.7,1871.42) scale(1.6,1)">20%</text>
<text transform="translate(188.7,1782.3) scale(1.6,1)">30%</text>
<text transform="translate(188.7,1693.18) scale(1.6,1)">40%</text>
<text transform="translate(188.7,1604.07) scale(1.6,1)">50%</text>
<text transform="translate(188.7,1514.95) scale(1.6,1)">60%</text>
</g>
<text class="sans" font-size="37" text-anchor="middle" transform="translate(69.6,1760.3) rotate(-90) scale(0.98,1)">Methylation Level</text>
<text class="sans" font-size="37" transform="translate(1409.5,1566.5) scale(1,1)">mCHG</text>
<g>
<rect x="334.81" y="2443.34" width="5.07" height="181.46" fill="#d2ced3"/>
<rect x="349.48" y="2474.2" width="5.07" height="150.6" fill="#d2ced3"/>
<rect x="364.16" y="2474.2" width="5.07" height="150.6" fill="#d2ced3"/>
<rect x="378.83" y="2463.52" width="5.07" height="161.28" fill="#d2ced3"/>
<rect x="393.5" y="2463.52" width="5.07" height="161.28" fill="#d2ced3"/>
<rect x="325.66" y="2403.93" width="8.7" height="220.87" fill="#7c0307" stroke="#160a06" stroke-width="1.9"/>
<rect x="340.33" y="2442.79" width="8.7" height="182.01" fill="#b6c004" stroke="#160a06" stroke-width="1.9"/>
<rect x="355.01" y="2473.65" width="8.7" height="151.15" fill="#580405" stroke="#160a06" stroke-width="1.9"/>
<rect x="369.68" y="2415.5" width="8.7" height="209.3" fill="#fc8904" stroke="#160a06" stroke-width="1.9"/>
<rect x="384.35" y="2462.97" width="8.7" height="161.83" fill="#864806" stroke="#160a06" stroke-width="1.9"/>
<rect x="399.02" y="2457.92" width="8.7" height="166.88" fill="#828606" stroke="#160a06" stroke-width="1.9"/>
<rect x="479.89" y="2228.25" width="5.01" height="396.55" fill="#d2ced3"/>
<rect x="494.5" y="2297.67" width="5.01" height="327.13" fill="#d2ced3"/>
<rect x="509.11" y="2297.67" width="5.01" height="327.13" fill="#d2ced3"/>
<rect x="523.73" y="2260.88" width="5.01" height="363.92" fill="#d2ced3"/>
<rect x="538.34" y="2261.77" width="5.01" height="363.03" fill="#d2ced3"/>
<rect x="470.74" y="2166.28" width="8.7" height="458.52" fill="#7c0307" stroke="#160a06" stroke-width="1.9"/>
<rect x="485.35" y="2227.7" width="8.7" height="397.1" fill="#b6c004" stroke="#160a06" stroke-width="1.9"/>
<rect x="499.96" y="2297.12" width="8.7" height="327.68" fill="#580405" stroke="#160a06" stroke-width="1.9"/>
<rect x="514.58" y="2176.96" width="8.7" height="447.84" fill="#fc8904" stroke="#160a06" stroke-width="1.9"/>
<rect x="529.19" y="2260.33" width="8.7" height="364.47" fill="#864806" stroke="#160a06" stroke-width="1.9"/>
<rect x="543.8" y="2261.22" width="8.7" height="363.58" fill="#828606" stroke="#160a06" stroke-width="1.9"/>
<rect x="625.56" y="2342.77" width="5.13" height="282.03" fill="#d2ced3"/>
<rect x="640.29" y="2397.35" width="5.13" height="227.45" fill="#d2ced3"/>
<rect x="655.02" y="2397.35" width="5.13" height="227.45" fill="#d2ced3"/>
<rect x="669.75" y="2374.21" width="5.13" height="250.59" fill="#d2ced3"/>
<rect x="684.49" y="2374.21" width="5.13" height="250.59" fill="#d2ced3"/>
<rect x="616.41" y="2295.93" width="8.7" height="328.87" fill="#7c0307" stroke="#160a06" stroke-width="1.9"/>
<rect x="631.14" y="2342.22" width="8.7" height="282.58" fill="#b6c004" stroke="#160a06" stroke-width="1.9"/>
<rect x="645.87" y="2396.8" width="8.7" height="228" fill="#580405" stroke="#160a06" stroke-width="1.9"/>
<rect x="660.6" y="2304.54" width="8.7" height="320.26" fill="#fc8904" stroke="#160a06" stroke-width="1.9"/>
<rect x="675.34" y="2373.66" width="8.7" height="251.14" fill="#864806" stroke="#160a06" stroke-width="1.9"/>
<rect x="690.07" y="2369.81" width="8.7" height="254.99" fill="#828606" stroke="#160a06" stroke-width="1.9"/>
<rect x="772.44" y="2484.88" width="4.95" height="139.92" fill="#d2ced3"/>
<rect x="786.99" y="2523.44" width="4.95" height="101.36" fill="#d2ced3"/>
<rect x="801.55" y="2523.44" width="4.95" height="101.36" fill="#d2ced3"/>
<rect x="816.1" y="2510.98" width="4.95" height="113.82" fill="#d2ced3"/>
<rect x="830.65" y="2512.47" width="4.95" height="112.33" fill="#d2ced3"/>
<rect x="763.29" y="2458.22" width="8.7" height="166.58" fill="#7c0307" stroke="#160a06" stroke-width="1.9"/>
<rect x="777.84" y="2484.33" width="8.7" height="140.47" fill="#b6c004" stroke="#160a06" stroke-width="1.9"/>
<rect x="792.4" y="2522.89" width="8.7" height="101.91" fill="#580405" stroke="#160a06" stroke-width="1.9"/>
<rect x="806.95" y="2445.16" width="8.7" height="179.64" fill="#fc8904" stroke="#160a06" stroke-width="1.9"/>
<rect x="821.5" y="2510.43" width="8.7" height="114.37" fill="#864806" stroke="#160a06" stroke-width="1.9"/>
<rect x="836.06" y="2511.92" width="8.7" height="112.88" fill="#828606" stroke="#160a06" stroke-width="1.9"/>
<rect x="917.81" y="2412.19" width="5.01" height="212.61" fill="#d2ced3"/>
<rect x="932.43" y="2438.59" width="5.01" height="186.21" fill="#d2ced3"/>
<rect x="947.04" y="2438.59" width="5.01" height="186.21" fill="#d2ced3"/>
<rect x="961.65" y="2432.96" width="5.01" height="191.84" fill="#d2ced3"/>
<rect x="976.26" y="2432.96" width="5.01" height="191.84" fill="#d2ced3"/>
<rect x="908.66" y="2360.91" width="8.7" height="263.89" fill="#7c0307" stroke="#160a06" stroke-width="1.9"/>
<rect x="923.28" y="2411.64" width="8.7" height="213.16" fill="#b6c004" stroke="#160a06" stroke-width="1.9"/>
<rect x="937.89" y="2438.04" width="8.7" height="186.76" fill="#580405" stroke="#160a06" stroke-width="1.9"/>
<rect x="952.5" y="2390.87" width="8.7" height="233.93" fill="#fc8904" stroke="#160a06" stroke-width="1.9"/>
<rect x="967.11" y="2432.41" width="8.7" height="192.39" fill="#864806" stroke="#160a06" stroke-width="1.9"/>
<rect x="981.73" y="2424.4" width="8.7" height="200.4" fill="#828606" stroke="#160a06" stroke-width="1.9"/>
<rect x="1063.48" y="2473.31" width="5.19" height="151.49" fill="#d2ced3"/>
<rect x="1078.27" y="2516.92" width="5.19" height="107.88" fill="#d2ced3"/>
<rect x="1093.06" y="2516.92" width="5.19" height="107.88" fill="#d2ced3"/>
<rect x="1107.86" y="2502.68" width="5.19" height="122.12" fill="#d2ced3"/>
<rect x="1122.65" y="2504.46" width="5.19" height="120.34" fill="#d2ced3"/>
<rect x="1054.33" y="2443.38" width="8.7" height="181.42" fill="#7c0307" stroke="#160a06" stroke-width="1.9"/>
<rect x="1069.12" y="2472.76" width="8.7" height="152.04" fill="#b6c004" stroke="#160a06" stroke-width="1.9"/>
<rect x="1083.91" y="2516.37" width="8.7" height="108.43" fill="#580405" stroke="#160a06" stroke-width="1.9"/>
<rect x="1098.71" y="2427.07" width="8.7" height="197.73" fill="#fc8904" stroke="#160a06" stroke-width="1.9"/>
<rect x="1113.5" y="2502.13" width="8.7" height="122.67" fill="#864806" stroke="#160a06" stroke-width="1.9"/>
<rect x="1128.29" y="2503.91" width="8.7" height="120.89" fill="#828606" stroke="#160a06" stroke-width="1.9"/>
<rect x="1209.77" y="2485.77" width="5.01" height="139.03" fill="#d2ced3"/>
<rect x="1224.38" y="2523.44" width="5.01" height="101.36" fill="#d2ced3"/>
<rect x="1238.99" y="2523.44" width="5.01" height="101.36" fill="#d2ced3"/>
<rect x="1253.61" y="2507.42" width="5.01" height="117.38" fill="#d2ced3"/>
<rect x="1268.22" y="2507.42" width="5.01" height="117.38" fill="#d2ced3"/>
<rect x="1200.62" y="2467.71" width="8.7" height="157.09" fill="#7c0307" stroke="#160a06" stroke-width="1.9"/>
<rect x="1215.23" y="2485.22" width="8.7" height="139.58" fill="#b6c004" stroke="#160a06" stroke-width="1.9"/>
<rect x="1229.84" y="2522.89" width="8.7" height="101.91" fill="#580405" stroke="#160a06" stroke-width="1.9"/>
<rect x="1244.46" y="2465.93" width="8.7" height="158.87" fill="#fc8904" stroke="#160a06" stroke-width="1.9"/>
<rect x="1259.07" y="2506.87" width="8.7" height="117.93" fill="#864806" stroke="#160a06" stroke-width="1.9"/>
<rect x="1273.68" y="2504.2" width="8.7" height="120.6" fill="#828606" stroke="#160a06" stroke-width="1.9"/>
<rect x="1355.14" y="2567.35" width="5.07" height="57.45" fill="#d2ced3"/>
<rect x="1369.81" y="2576.85" width="5.07" height="47.95" fill="#d2ced3"/>
<rect x="1384.49" y="2576.85" width="5.07" height="47.95" fill="#d2ced3"/>
<rect x="1399.16" y="2572.4" width="5.07" height="52.4" fill="#d2ced3"/>
<rect x="1413.83" y="2572.4" width="5.07" height="52.4" fill="#d2ced3"/>
<rect x="1345.99" y="2561.17" width="8.7" height="63.63" fill="#7c0307" stroke="#160a06" stroke-width="1.9"/>
<rect x="1360.66" y="2566.8" width="8.7" height="58" fill="#b6c004" stroke="#160a06" stroke-width="1.9"/>
<rect x="1375.34" y="2576.3" width="8.7" height="48.5" fill="#580405" stroke="#160a06" stroke-width="1.9"/>
<rect x="1390.01" y="2561.46" width="8.7" height="63.34" fill="#fc8904" stroke="#160a06" stroke-width="1.9"/>
<rect x="1404.68" y="2571.85" width="8.7" height="52.95" fill="#864806" stroke="#160a06" stroke-width="1.9"/>
<rect x="1419.35" y="2567.69" width="8.7" height="57.11" fill="#828606" stroke="#160a06" stroke-width="1.9"/>
<path d="M325.66 2403.93h8.7v220.87h-8.7zM340.33 2442.79h8.7v182.01h-8.7zM355.01 2473.65h8.7v151.15h-8.7zM369.68 2415.5h8.7v209.3h-8.7zM384.35 2462.97h8.7v161.83h-8.7zM399.02 2457.92h8.7v166.88h-8.7zM470.74 2166.28h8.7v458.52h-8.7zM485.35 2227.7h8.7v397.1h-8.7zM499.96 2297.12h8.7v327.68h-8.7zM514.58 2176.96h8.7v447.84h-8.7zM529.19 2260.33h8.7v364.47h-8.7zM543.8 2261.22h8.7v363.58h-8.7zM616.41 2295.93h8.7v328.87h-8.7zM631.14 2342.22h8.7v282.58h-8.7zM645.87 2396.8h8.7v228h-8.7zM660.6 2304.54h8.7v320.26h-8.7zM675.34 2373.66h8.7v251.14h-8.7zM690.07 2369.81h8.7v254.99h-8.7zM763.29 2458.22h8.7v166.58h-8.7zM777.84 2484.33h8.7v140.47h-8.7zM792.4 2522.89h8.7v101.91h-8.7zM806.95 2445.16h8.7v179.64h-8.7zM821.5 2510.43h8.7v114.37h-8.7zM836.06 2511.92h8.7v112.88h-8.7zM908.66 2360.91h8.7v263.89h-8.7zM923.28 2411.64h8.7v213.16h-8.7zM937.89 2438.04h8.7v186.76h-8.7zM952.5 2390.87h8.7v233.93h-8.7zM967.11 2432.41h8.7v192.39h-8.7zM981.73 2424.4h8.7v200.4h-8.7zM1054.33 2443.38h8.7v181.42h-8.7zM1069.12 2472.76h8.7v152.04h-8.7zM1083.91 2516.37h8.7v108.43h-8.7zM1098.71 2427.07h8.7v197.73h-8.7zM1113.5 2502.13h8.7v122.67h-8.7zM1128.29 2503.91h8.7v120.89h-8.7zM1200.62 2467.71h8.7v157.09h-8.7zM1215.23 2485.22h8.7v139.58h-8.7zM1229.84 2522.89h8.7v101.91h-8.7zM1244.46 2465.93h8.7v158.87h-8.7zM1259.07 2506.87h8.7v117.93h-8.7zM1273.68 2504.2h8.7v120.6h-8.7zM1345.99 2561.17h8.7v63.63h-8.7zM1360.66 2566.8h8.7v58h-8.7zM1375.34 2576.3h8.7v48.5h-8.7zM1390.01 2561.46h8.7v63.34h-8.7zM1404.68 2571.85h8.7v52.95h-8.7zM1419.35 2567.69h8.7v57.11h-8.7z" fill="none" stroke="#160a06" stroke-opacity="0.32" stroke-width="3.5999999999999996"/>
<path d="M219.2 2114.2H1533.95" stroke="#303030" stroke-width="2.3" fill="none"/>
<path d="M219.2 2624.8H1533.95" stroke="#5e5e5e" stroke-width="3.2" fill="none"/>
<path d="M220.3 2114.2V2624.8" stroke="#141414" stroke-width="2.2" fill="none"/>
<path d="M1532.8 2114.2V2624.8" stroke="#262626" stroke-width="2.3" fill="none"/>
<path d="M205.5 2624.8H220.3M205.5 2573.74H220.3M205.5 2522.68H220.3M205.5 2471.62H220.3M205.5 2420.56H220.3M205.5 2369.5H220.3M205.5 2318.44H220.3M205.5 2267.38H220.3M205.5 2216.32H220.3M205.5 2165.26H220.3M205.5 2114.2H220.3M365.89 2624.8V2635.3M510.82 2624.8V2635.3M656.79 2624.8V2635.3M803.22 2624.8V2635.3M948.74 2624.8V2635.3M1094.86 2624.8V2635.3M1240.7 2624.8V2635.3M1386.22 2624.8V2635.3" stroke="#333333" stroke-width="2.2" fill="none"/>
</g>
<g class="serif" font-size="30.3" text-anchor="end">
<text transform="translate(188.4,2635.04) scale(1.21,1)">0%</text>
<text transform="translate(188.4,2583.98) scale(1.21,1)">2%</text>
<text transform="translate(188.4,2532.92) scale(1.21,1)">4%</text>
<text transform="translate(188.4,2481.86) scale(1.21,1)">6%</text>
<text transform="translate(188.4,2430.8) scale(1.21,1)">8%</text>
<text transform="translate(188.4,2379.74) scale(1.21,1)">10%</text>
<text transform="translate(188.4,2328.68) scale(1.21,1)">12%</text>
<text transform="translate(188.4,2277.62) scale(1.21,1)">14%</text>
<text transform="translate(188.4,2226.56) scale(1.21,1)">16%</text>
<text transform="translate(188.4,2175.5) scale(1.21,1)">18%</text>
<text transform="translate(188.4,2124.44) scale(1.21,1)">20%</text>
</g>
<text class="sans" font-size="37" text-anchor="middle" transform="translate(69.6,2346) rotate(-90) scale(0.98,1)">Methylation Level</text>
<text class="sans" font-size="37" transform="translate(1400.4,2167.3) scale(1,1)">mCHH</text>
<g>
<rect x="1589.2" y="55.8" width="215.2" height="213.8" fill="#fff" stroke="#333333" stroke-width="2.2"/>
<rect x="1614.6" y="77.8" width="82.4" height="17.4" fill="#8a0002" stroke="#160a06" stroke-width="1.8"/>
<rect x="1614.6" y="108.35" width="82.4" height="17.4" fill="#b9c800" stroke="#160a06" stroke-width="1.8"/>
<rect x="1614.6" y="138.9" width="82.4" height="17.4" fill="#620003" stroke="#160a06" stroke-width="1.8"/>
<rect x="1614.6" y="169.45" width="82.4" height="17.4" fill="#ff8800" stroke="#160a06" stroke-width="1.8"/>
<rect x="1614.6" y="200" width="82.4" height="17.4" fill="#8a4800" stroke="#160a06" stroke-width="1.8"/>
<rect x="1614.6" y="230.55" width="82.4" height="17.4" fill="#848600" stroke="#160a06" stroke-width="1.8"/>
</g>
<g class="sans" font-size="25.4">
<text transform="translate(1717.5,95.4) scale(1.45,1)">CK</text>
<text transform="translate(1717.5,125.95) scale(1.45,1)">WS</text>
<text transform="translate(1717.5,156.5) scale(1.45,1)">YS</text>
<text transform="translate(1717.5,187.05) scale(1.45,1)">GS</text>
<text transform="translate(1717.5,217.6) scale(1.45,1)">LS</text>
<text transform="translate(1717.5,248.15) scale(1.45,1)">TP</text>
</g>
<g class="serif xl" font-size="37" text-anchor="end">
<text transform="translate(384.49,2661.5) rotate(-45) scale(1,1)">Genebody</text>
<text transform="translate(529.42,2661.5) rotate(-45) scale(1,1)">Upstream_2k</text>
<text transform="translate(675.39,2661.5) rotate(-45) scale(0.975,1)">Downstream_2k</text>
<text transform="translate(821.82,2661.5) rotate(-45) scale(1,1)">Exon</text>
<text transform="translate(967.34,2661.5) rotate(-45) scale(1,1)">Intron</text>
<text transform="translate(1113.46,2661.5) rotate(-45) scale(1,1)">CDS</text>
<text transform="translate(1259.3,2661.5) rotate(-45) scale(1,1)">Five_UTR</text>
<text transform="translate(1404.82,2661.5) rotate(-45) scale(1,1)">Three_UTR</text>
</g>
<path d="M30.2 1695V1698.3M30.2 1750.8V1754.8M30.2 1798V1800.2M30.2 1823.3V1826.6M30.2 1855.8V1859.1M30.2 1880.4V1885.7M30.2 1898.3V1905.6" stroke="#555" stroke-opacity="0.6" stroke-width="1.6" fill="none"/>
</svg></body></html>
